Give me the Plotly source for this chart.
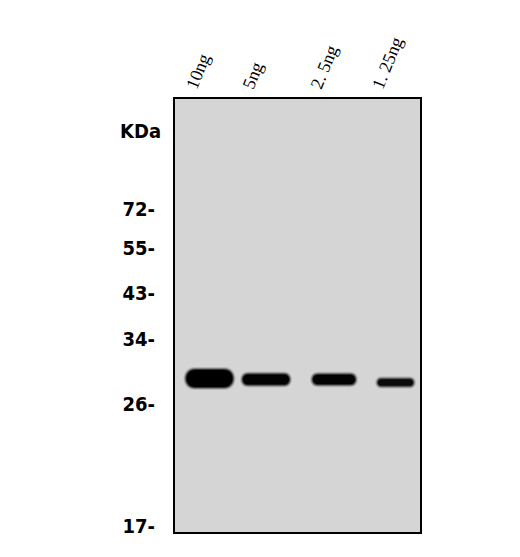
import plotly.graph_objects as go

# lanes (position across the blot, px from left edge of membrane)
lane_labels = ["10ng", "5ng", "2. 5ng", "1. 25ng"]
lane_x = [34.5, 91, 159, 220.5]

# marker ladder: size (kDa) and migration (px from top of membrane)
marker_kda = ["72", "55", "43", "34", "26", "17"]
marker_pos = [110, 149, 194, 240, 305, 427]

# detected bands
band_y = [279.5, 280.5, 280.5, 283.5]
band_w = [46, 46, 42, 35]
band_h = [17, 10, 9.5, 6.5]
band_dark = [1.0, 0.97, 0.95, 0.85]

BLOT_W = 245
BLOT_H = 433
LABEL_SHIFT = -21  # lane labels sit a bit left of the band centres

SANS = "Liberation Sans Narrow, DejaVu Sans Condensed, Roboto, sans-serif"


def stadium(xc, yc, w, h):
    x0, x1 = xc - w / 2, xc + w / 2
    yt, yb = yc - h / 2, yc + h / 2
    a = min(h / 2, w / 2)
    return (f"M {x0+a},{yt} L {x1-a},{yt} "
            f"C {x1+a/3},{yt} {x1+a/3},{yb} {x1-a},{yb} "
            f"L {x0+a},{yb} "
            f"C {x0-a/3},{yb} {x0-a/3},{yt} {x0+a},{yt} Z")


fig = go.Figure()
# invisible trace so the axes are drawn
fig.add_trace(go.Scatter(x=lane_x, y=band_y, mode="markers",
                         marker=dict(opacity=0), hoverinfo="skip", showlegend=False))

shapes = []
for xc, yc, w, h, d in zip(lane_x, band_y, band_w, band_h, band_dark):
    # soft halo then solid core
    for grow, op in [(6, 0.15), (4, 0.3), (2, 0.55), (0, 1.0)]:
        shapes.append(dict(type="path", xref="x", yref="y",
                           path=stadium(xc, yc, w + grow, h + grow),
                           fillcolor="black", opacity=op * d,
                           line=dict(width=0), layer="above"))

fig.update_layout(
    width=520, height=557,
    margin=dict(l=167, r=108, t=91, b=33),
    paper_bgcolor="white",
    plot_bgcolor="#d5d5d5",
    showlegend=False,
    shapes=shapes,
    xaxis=dict(range=[0, BLOT_W], side="top",
               tickvals=[x + LABEL_SHIFT for x in lane_x], ticktext=lane_labels,
               tickangle=-68,
               tickfont=dict(family="Liberation Serif, Times New Roman, serif",
                             size=18, color="black"),
               ticks="", ticklabelstandoff=-6,
               showgrid=False, zeroline=False,
               showline=True, mirror=True, linecolor="black", linewidth=2),
    yaxis=dict(range=[BLOT_H, 0],
               tickvals=marker_pos, ticktext=[k + "-" for k in marker_kda],
               tickfont=dict(family=SANS, size=20, color="black", weight="bold"),
               ticks="", ticklabelstandoff=14,
               showgrid=False, zeroline=False,
               showline=True, mirror=True, linecolor="black", linewidth=2),
    annotations=[dict(text="KDa", xref="paper", yref="y", x=-0.05, y=32,
                      xanchor="right", yanchor="middle", showarrow=False,
                      font=dict(family=SANS, size=20, color="black", weight="bold"))],
)

fig.write_html("out.html")
